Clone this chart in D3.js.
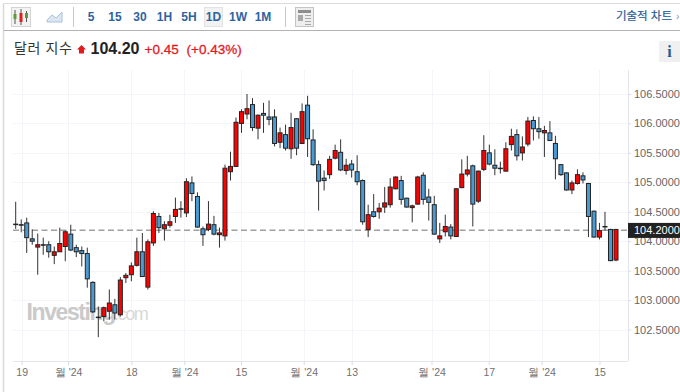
<!DOCTYPE html>
<html>
<head>
<meta charset="utf-8">
<script src="https://cdn.jsdelivr.net/npm/d3@7"></script>
<style>
html,body{margin:0;padding:0;background:#fff;}
svg{display:block;font-family:"Liberation Sans","Noto Sans CJK KR",sans-serif;}
</style>
</head>
<body>
<svg id="chart" width="680" height="392"></svg>
<script>
const opens=[104.29,104.28,104.31,104.04,103.90,103.94,103.94,103.76,103.82,103.91,
104.12,103.89,103.84,103.79,103.30,102.71,102.72,102.81,102.92,102.75,
103.38,103.43,103.59,103.82,103.22,103.97,104.42,104.21,104.27,104.42,
104.55,104.48,104.99,104.76,104.21,104.20,104.28,104.11,104.09,105.18,
105.27,106.00,106.16,106.32,105.92,106.17,106.11,106.11,105.68,105.81,
105.57,106.08,105.66,106.31,105.72,105.30,105.07,105.13,105.41,105.51,
105.20,105.31,105.18,105.03,104.20,104.50,104.50,104.58,104.62,104.89,
105.03,104.73,104.57,104.63,105.12,104.75,104.62,104.04,104.16,104.24,
104.08,104.91,105.14,105.28,104.68,105.22,105.50,105.29,105.24,105.19,
105.64,105.81,105.50,105.65,106.05,105.91,105.84,105.84,105.66,105.30,
105.16,104.87,104.98,105.11,104.98,104.51,104.07,104.25,104.20,103.68];
const closes=[104.29,104.28,104.06,104.00,103.94,103.94,103.82,103.82,103.96,104.16,
103.85,103.82,103.79,103.36,102.80,102.71,102.87,102.95,102.78,103.34,
103.42,103.58,103.82,103.40,103.99,104.47,104.23,104.28,104.33,104.54,
104.55,105.01,104.81,104.24,104.11,104.29,104.12,104.14,105.24,105.27,
106.02,106.20,106.25,105.93,106.14,106.14,106.07,105.66,105.84,105.58,
105.93,105.58,106.20,105.74,105.30,105.02,105.03,105.39,105.54,105.21,
105.29,105.21,105.01,104.33,104.45,104.42,104.56,104.65,104.92,105.09,
104.71,104.58,104.60,105.09,104.71,104.66,104.12,104.09,104.25,104.09,
104.89,105.14,105.21,104.63,105.19,105.54,105.31,105.24,105.24,105.57,
105.78,105.45,105.60,106.04,105.91,105.86,105.88,105.71,105.40,105.13,
104.87,104.99,105.13,105.04,104.42,104.07,104.18,104.25,103.67,104.20];
const highs=[104.67,104.37,104.40,104.20,104.13,104.06,104.00,103.91,104.23,104.18,
104.28,103.94,103.91,103.89,103.32,102.89,102.89,103.18,103.02,103.39,
103.46,103.64,104.06,104.14,104.03,104.51,104.48,104.34,104.45,104.74,
104.68,105.07,105.10,104.83,104.25,104.68,104.43,104.23,105.30,105.52,
106.10,106.24,106.50,106.43,106.15,106.35,106.39,106.24,105.93,105.98,
106.18,106.09,106.34,106.47,105.90,105.37,105.20,105.45,105.64,105.73,
105.40,105.38,105.46,105.05,104.62,104.80,104.65,104.92,105.07,105.10,
105.11,104.74,104.62,105.11,105.17,104.89,104.77,104.31,104.45,104.29,
104.90,105.39,105.45,105.30,105.20,105.80,105.64,105.56,105.35,105.68,
105.91,105.90,105.78,106.11,106.12,106.11,105.96,106.04,105.79,105.31,
105.17,105.03,105.22,105.17,104.99,104.52,104.31,104.50,104.21,104.20];
const lows=[104.21,104.15,103.80,103.94,103.43,103.77,103.72,103.61,103.82,103.66,
103.83,103.73,103.57,103.21,102.78,102.37,102.64,102.67,102.67,102.72,
103.29,103.32,103.57,103.39,103.18,103.92,104.14,104.01,104.23,104.31,
104.40,104.41,104.68,104.23,103.92,104.17,104.10,103.89,104.01,105.03,
105.26,105.84,106.07,105.87,105.73,105.84,105.97,105.61,105.58,105.54,
105.40,105.46,105.65,105.43,105.28,104.52,104.86,105.06,105.39,105.19,
105.13,105.08,104.95,104.28,104.07,104.40,104.38,104.48,104.57,104.88,
104.62,104.57,104.32,104.62,104.62,104.35,104.11,103.97,104.08,104.03,
104.07,104.90,105.10,104.25,104.65,105.19,105.29,105.12,105.15,105.18,
105.54,105.37,105.37,105.61,105.71,105.74,105.43,105.70,105.05,105.11,
104.86,104.80,104.96,104.98,104.07,104.06,104.03,104.18,103.66,103.66];
const priceTicks=[102.5,103,103.5,104,104.5,105,105.5,106,106.5];
const dateTickIdx=[1.09,9.5,21,30.6,40.9,52.3,61,75.5,85.9,95.5,106];
const dateTickLabels=['19',"월 '24",'18',"월 '24",'15',"월 '24",'13',"월 '24",'17',"월 '24",'15'];
const lastPrice=104.2;
const periods=['5','15','30','1H','5H','1D','1W','1M'];
const periodX=[91,115,140,164.5,189,213.5,238,263];

const svg=d3.select('#chart');
const x=d3.scaleLinear().domain([0,109]).range([15.7,616]);
const y=d3.scaleLinear().domain([106.5,102.5]).range([94,329.5]);
const plotL=13,plotR=628,plotT=70,plotB=361;

// outer frame + toolbar
svg.append('line').attr('x1',3.5).attr('x2',3.5).attr('y1',3).attr('y2',392).attr('stroke','#d8d8d8').attr('stroke-width',1.5);
svg.append('line').attr('x1',3).attr('x2',680).attr('y1',3.5).attr('y2',3.5).attr('stroke','#dcdcdc');
svg.append('line').attr('x1',4).attr('x2',680).attr('y1',30.5).attr('y2',30.5).attr('stroke','#b3b3b3');
[73.5,285.5].forEach(v=>svg.append('line').attr('x1',v).attr('x2',v).attr('y1',7).attr('y2',27).attr('stroke','#c8c8c8'));
svg.append('rect').attr('x',11.5).attr('y',7.5).attr('width',19).attr('height',19).attr('fill','#f2f2f2').attr('stroke','#d4d4d4');
[[15,10,24,14,19,'#5a9a3c'],[21,9,25,13,22,'#e0201c'],[26.5,11,22,13,18,'#5a9a3c']].forEach(c=>{
  svg.append('line').attr('x1',c[0]).attr('x2',c[0]).attr('y1',c[1]).attr('y2',c[2]).attr('stroke','#555');
  svg.append('rect').attr('x',c[0]-1.5).attr('y',c[3]).attr('width',3).attr('height',c[4]-c[3]).attr('fill',c[5]);
});
svg.append('path').attr('d','M47 20 L52 15 L56 18 L62 12 L62 22 L47 22 Z').attr('fill','#dbe6f2').attr('stroke','#a9c2dc').attr('stroke-width',1);
svg.append('rect').attr('x',204.5).attr('y',7.5).attr('width',18).attr('height',19).attr('fill','#f2f2f2').attr('stroke','#e2e2e2');
svg.selectAll('.period').data(periods).join('text').attr('class','period')
  .attr('x',(d,i)=>periodX[i]).attr('y',20.5).attr('text-anchor','middle')
  .attr('fill','#2f639f').style('font-size','12px').style('font-weight','700').text(d=>d);
svg.append('rect').attr('x',295.5).attr('y',7.5).attr('width',18).attr('height',19).attr('fill','#eeeeee').attr('stroke','#c4c4c4');
svg.append('rect').attr('x',298).attr('y',10).attr('width',13).attr('height',3).attr('fill','#8e8e8e');
svg.append('rect').attr('x',298).attr('y',15).attr('width',5).attr('height',6).attr('fill','#a8a8a8');
[15,18,21,24].forEach(v=>svg.append('line').attr('x1',305).attr('x2',311).attr('y1',v+.5).attr('y2',v+.5).attr('stroke','#a8a8a8'));
svg.append('text').attr('x',672).attr('y',20).attr('text-anchor','end').attr('fill','#1f5d94').attr('stroke','#1f5d94').attr('stroke-width',0.2).style('font-size','11.5px').text('기술적 차트');
svg.append('text').attr('x',676).attr('y',20).attr('fill','#7d94aa').style('font-size','10px').text('›');

// quote line
svg.append('text').attr('x',14).attr('y',53).attr('fill','#333').style('font-size','14px').style('letter-spacing','0.6px').text('달러 지수');
svg.append('path').attr('d','M81.5 45 L86 49.5 L84 49.5 L84 53.5 L79 53.5 L79 49.5 L77 49.5 Z').attr('fill','#e3191f');
svg.append('text').attr('x',90.5).attr('y',54).attr('fill','#222').style('font-size','16px').style('font-weight','700').text(lastPrice.toFixed(2));
svg.append('text').attr('x',144.5).attr('y',53.5).attr('fill','#e3191f').attr('stroke','#e3191f').attr('stroke-width',0.3).style('font-size','13.5px').text('+0.45');
svg.append('text').attr('x',186.5).attr('y',53.5).attr('fill','#e3191f').attr('stroke','#e3191f').attr('stroke-width',0.3).style('font-size','13.5px').text('(+0.43%)');
svg.append('rect').attr('x',659).attr('y',41).attr('width',21).attr('height',21).attr('fill','#f0f0f0');
svg.append('text').attr('x',669.5).attr('y',57).attr('text-anchor','middle').attr('fill','#1f5d94')
  .style('font-family','"Liberation Serif",serif').style('font-size','16px').style('font-weight','700').text('i');

// grid
const grid=svg.append('g');
grid.selectAll('.h').data(priceTicks).join('line').attr('x1',plotL).attr('x2',plotR)
  .attr('y1',d=>Math.round(y(d))+.5).attr('y2',d=>Math.round(y(d))+.5).attr('stroke','#f4f5f8');
grid.selectAll('.v').data(dateTickIdx).join('line').attr('y1',plotT).attr('y2',plotB)
  .attr('x1',d=>Math.round(x(d))+.5).attr('x2',d=>Math.round(x(d))+.5).attr('stroke','#f4f5f8');
svg.append('line').attr('x1',plotR+.5).attr('x2',plotR+.5).attr('y1',plotT).attr('y2',plotB).attr('stroke','#e3e6ee');

// watermark
svg.append('text').attr('x',26.5).attr('y',319.5).attr('fill','#cacaca').style('font-size','23px').style('font-weight','700').style('letter-spacing','-1.4px').text('Investing');
svg.append('text').attr('x',114).attr('y',319.5).attr('fill','#d8d8d8').style('font-size','18px').style('letter-spacing','-1.4px').text('.com');

// axes
svg.append('g').attr('transform','translate('+plotR+',0)')
  .call(d3.axisRight(y).tickValues(priceTicks).tickSize(3).tickPadding(3).tickFormat(d=>d.toFixed(4)))
  .call(a=>{a.select('.domain').remove();a.selectAll('line').attr('stroke','#d8dbe2');a.selectAll('text').attr('fill','#666').style('font-size','11px').style('font-family','inherit');});
svg.append('g').attr('transform','translate(0,'+plotB+')')
  .call(d3.axisBottom(x).tickValues(dateTickIdx).tickSize(4).tickPadding(4).tickFormat(d=>dateTickLabels[dateTickIdx.indexOf(d)]))
  .call(a=>{a.select('.domain').attr('d','M'+plotL+',0.5H'+plotR).attr('stroke','#e3e6ee');a.selectAll('line').attr('stroke','#d8dbe2');a.selectAll('text').attr('fill','#707070').style('font-size','10.5px').style('font-family','inherit');});

// last price line
svg.append('line').attr('x1',plotL).attr('x2',plotR).attr('y1',y(lastPrice)+.9).attr('y2',y(lastPrice)+.9)
  .attr('stroke','#a0a0a0').attr('stroke-width',1.5).attr('stroke-dasharray','6 3.5');

// candles
const g=svg.append('g');
const idx=d3.range(opens.length);
g.selectAll('.wick').data(idx).join('line').attr('class','wick')
  .attr('x1',i=>x(i)).attr('x2',i=>x(i)).attr('y1',i=>y(highs[i])).attr('y2',i=>y(lows[i]))
  .attr('stroke','#333');
g.selectAll('.body').data(idx).join('rect').attr('class','body')
  .attr('x',i=>x(i)-2).attr('width',4)
  .attr('y',i=>y(Math.max(opens[i],closes[i])))
  .attr('height',i=>Math.max(0.5,Math.abs(y(opens[i])-y(closes[i]))))
  .attr('fill',i=>closes[i]>opens[i]?'#ff0000':closes[i]<opens[i]?'#4a9ad4':'#333')
  .attr('stroke','#222').attr('stroke-width',1);

// last price badge
svg.append('rect').attr('x',628).attr('y',y(lastPrice)-6.5).attr('width',52).attr('height',15).attr('fill','#222');
svg.append('text').attr('x',634).attr('y',y(lastPrice)+5).attr('fill','#fff').style('font-size','11px').text(lastPrice.toFixed(4));
</script>
</body>
</html>
